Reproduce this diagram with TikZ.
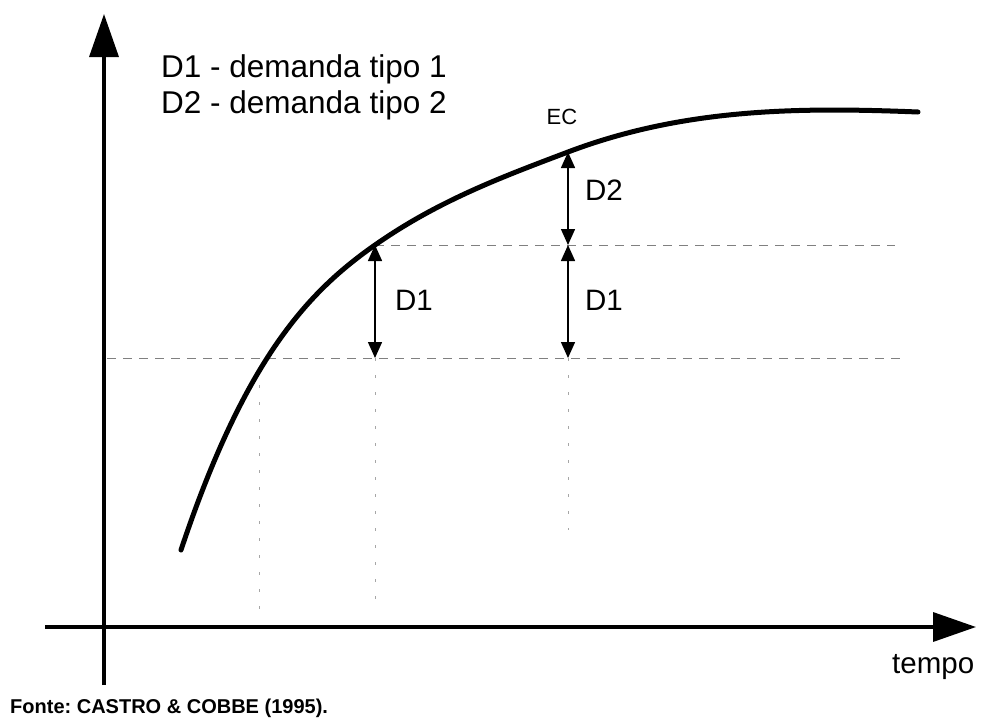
\documentclass[tikz,border=0pt]{standalone}
\usepackage{fontspec}
\setmainfont{Liberation Sans}
\usetikzlibrary{arrows.meta}
\begin{document}
\frenchspacing
\begin{tikzpicture}[x=1pt,y=-1pt,
  axis/.style={line width=3.5pt,-{Triangle[length=43pt,width=29pt]}},
  curveline/.style={line width=5pt,line cap=round},
  dimarrow/.style={line width=1.5pt,{Triangle[length=16pt,width=14pt]}-{Triangle[length=16pt,width=14pt]}},
  guideh/.style={gray,line width=0.9pt,dash pattern=on 9pt off 7pt},
  guidev/.style={gray!70,line width=0.8pt,dash pattern=on 3pt off 14pt},
  big/.style={font=\fontsize{29.5}{34}\selectfont,inner sep=0pt},
  txt/.style={inner sep=0pt,anchor=base west}]
\useasboundingbox (0,0) rectangle (981,720);
% axes
\coordinate (yb) at (104,685);
\coordinate (yt) at (104,14);
\coordinate (xl) at (45,627);
\coordinate (xr) at (976,627);
\draw[axis] (yb) -- (yt);
\draw[axis] (xl) -- (xr);
% key points
\coordinate (c0) at (181,550);
\coordinate (c1) at (375,245);
\coordinate (c2) at (568,152);
\coordinate (c3) at (918,112);
\coordinate (m2) at (568,245);
\coordinate (b1) at (375,358);
\coordinate (b2) at (568,358);
\coordinate (hl) at (107,358);
\coordinate (hr) at (900,358);
\coordinate (ur) at (895,245);
\coordinate (v0) at (259,385);
\coordinate (v0b) at (259,614);
\coordinate (v1b) at (375,612);
\coordinate (v2b) at (568,530);
% guides
\draw[guideh] (hl) -- (hr);
\draw[guideh] (c1) -- (ur);
\draw[guidev] (v0) -- (v0b);
\draw[guidev] (b1) -- (v1b);
\draw[guidev] (b2) -- (v2b);
% curve
\draw[curveline] (c0) .. controls (245.7,356) and (310.3,290.3) .. (c1)
  .. controls (439.3,200) and (503.7,176.4) .. (c2)
  .. controls (684.7,107.7) and (801.3,107.3) .. (c3);
% dimension arrows
\draw[dimarrow] (b1) -- (c1);
\draw[dimarrow] (m2) -- (c2);
\draw[dimarrow] (b2) -- (m2);
% labels
\node[big] (lD1a) at (414,300) {D1};
\node[big] (lD2) at (604,190) {D2};
\node[big] (lD1b) at (604,300) {D1};
\node[inner sep=0pt,font=\fontsize{22}{26}\selectfont] (lEC) at (562,117) {EC};
\node[txt,font=\fontsize{31.5}{36}\selectfont] (leg1) at (161,77) {D1 - demanda tipo 1};
\node[txt,font=\fontsize{31.5}{36}\selectfont] (leg2) at (161,113) {D2 - demanda tipo 2};
\node[txt,font=\fontsize{29.5}{34}\selectfont] (tempo) at (892,673) {tempo};
\node[txt,font=\fontsize{20}{24}\selectfont\bfseries] (fonte) at (10,713) {Fonte: CASTRO \& COBBE (1995).};
\end{tikzpicture}
\end{document}
